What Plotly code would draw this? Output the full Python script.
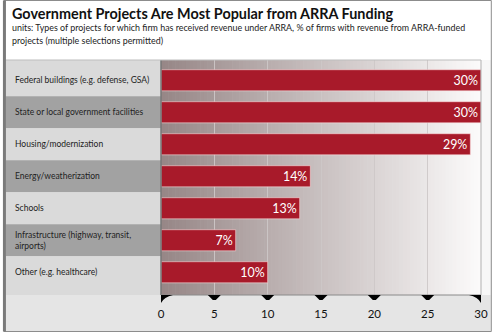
import plotly.graph_objects as go

categories = [
    "Federal buildings (e.g. defense, GSA)",
    "State or local government facilities",
    "Housing/modernization",
    "Energy/weatherization",
    "Schools",
    "Infrastructure (highway, transit,<br>airports)",
    "Other (e.g. healthcare)",
]
values = [30, 30, 29, 14, 13, 7, 10]
value_labels = ["30%", "30%", "29%", "14%", "13%", "7%", "10%"]
x_ticks = [0, 5, 10, 15, 20, 25, 30]

title = "Government Projects Are Most Popular from ARRA Funding"
subtitle1 = "units: Types of projects for which firm has received revenue under ARRA, % of firms with revenue from ARRA-funded"
subtitle2 = "projects (multiple selections permitted)"

W, H = 500, 333
L, R, T, B = 161, 487, 60, 295
FONT = "Lato"

def px(p):
    return (p - L) / (R - L)

def py(p):
    return (B - p) / (B - T)

def lerp(c1, c2, t):
    return "rgb(%d,%d,%d)" % tuple(round(a + (b - a) * t) for a, b in zip(c1, c2))

shapes = []
# light gray area under the title
shapes.append(dict(type="rect", xref="paper", yref="paper", x0=px(2), x1=px(497),
                   y0=py(331), y1=py(T), fillcolor="#e5e5e5", line_width=0, layer="below"))
# white strip right of the plot
shapes.append(dict(type="rect", xref="paper", yref="paper", x0=px(R), x1=px(497),
                   y0=py(B), y1=py(T), fillcolor="#f7f7f7", line_width=0, layer="below"))
# gradient plot background
N = 90
c_left, c_right = (150, 134, 134), (252, 251, 251)
for i in range(N):
    shapes.append(dict(type="rect", xref="x domain", yref="y domain",
                       x0=i / N, x1=(i + 1) / N + 0.002, y0=0, y1=1,
                       fillcolor=lerp(c_left, c_right, (i + 0.5) / N), line_width=0, layer="below"))
# label column bands
n = len(categories)
y_top, y_bot = -0.634, 6.71
for i in range(n):
    y0 = y_top if i == 0 else i - 0.5
    y1 = y_bot if i == n - 1 else i + 0.5
    shapes.append(dict(type="rect", xref="paper", yref="y", x0=px(3), x1=0,
                       y0=y0, y1=y1, fillcolor="#dadada" if i % 2 == 0 else "#a2a2a2",
                       line_width=0, layer="below"))
# plot borders
shapes.append(dict(type="line", xref="paper", yref="paper", x0=0, x1=0, y0=0, y1=1,
                   line=dict(color="#777777", width=1.5)))
shapes.append(dict(type="line", xref="paper", yref="paper", x0=0, x1=1, y0=0, y1=0,
                   line=dict(color="#8a8a8a", width=1)))
shapes.append(dict(type="line", xref="paper", yref="paper", x0=px(3), x1=1, y0=1, y1=1,
                   line=dict(color="#bdbdbd", width=1)))
shapes.append(dict(type="line", xref="paper", yref="paper", x0=1, x1=1, y0=0, y1=1,
                   line=dict(color="#b0b0b0", width=1)))
# tick marks (black triangles)
for v in x_ticks:
    if v == x_ticks[0]:
        path = "M0,0 L12,0 Q3,-2 0,-8 Z"
    elif v == x_ticks[-1]:
        path = "M0,0 L-12,0 Q-3,-2 0,-8 Z"
    else:
        path = "M-6.5,0 L6.5,0 L1.5,-5 L-1.5,-5 Z"
    shapes.append(dict(type="path", xref="x", xsizemode="pixel", xanchor=v,
                       yref="paper", ysizemode="pixel", yanchor=0, path=path,
                       fillcolor="#000000", line_width=0, layer="above"))
# outer frame
shapes.append(dict(type="rect", xref="paper", yref="paper", x0=px(1), x1=px(497.5),
                   y0=py(331.5), y1=py(0.5), line=dict(color="#8c8c8c", width=1)))
shapes.append(dict(type="line", xref="paper", yref="paper", x0=px(1.5), x1=px(1.5),
                   y0=py(331.5), y1=py(0.5), line=dict(color="#7a7a7a", width=3)))

annotations = []
for c in categories:
    annotations.append(dict(xref="paper", yref="y", x=px(10), y=c, text=c, showarrow=False,
                            xanchor="left", yanchor="middle", align="left",
                            font=dict(family=FONT, size=8.5, color="#222222")))
annotations.append(dict(xref="paper", yref="paper", x=px(7), y=py(14), text="<b>" + title + "</b>",
                        showarrow=False, xanchor="left", yanchor="middle",
                        font=dict(family=FONT, size=14.4, color="#111111")))
annotations.append(dict(xref="paper", yref="paper", x=px(7), y=py(27.5), text=subtitle1,
                        showarrow=False, xanchor="left", yanchor="middle",
                        font=dict(family=FONT, size=8.9, color="#222222")))
annotations.append(dict(xref="paper", yref="paper", x=px(7), y=py(40.5), text=subtitle2,
                        showarrow=False, xanchor="left", yanchor="middle",
                        font=dict(family=FONT, size=8.9, color="#222222")))

fig = go.Figure(go.Bar(
    x=values, y=categories, orientation="h", width=0.66,
    marker=dict(color="#a81a2a", line=dict(color="rgba(255,225,225,0.55)", width=1)),
    text=value_labels, textposition="inside", insidetextanchor="end", textangle=0,
    textfont=dict(family=FONT, size=14, color="white"),
    cliponaxis=False, hoverinfo="skip",
))

fig.update_layout(
    width=W, height=H, margin=dict(l=L, r=W - R, t=T, b=H - B),
    paper_bgcolor="white", plot_bgcolor="rgba(0,0,0,0)",
    showlegend=False, bargap=0.34,
    shapes=shapes, annotations=annotations,
    xaxis=dict(range=[0, 30], tickvals=x_ticks, showgrid=True, gridcolor="rgba(205,200,200,0.9)",
               gridwidth=1, zeroline=False, showline=False, ticks="",
               ticklabelstandoff=10, tickfont=dict(family=FONT, size=11.5, color="#111111"),
               fixedrange=True),
    yaxis=dict(type="category", categoryarray=categories, range=[y_bot, y_top],
               showticklabels=False, showgrid=False, zeroline=False, fixedrange=True),
)

fig.write_html("out.html")
